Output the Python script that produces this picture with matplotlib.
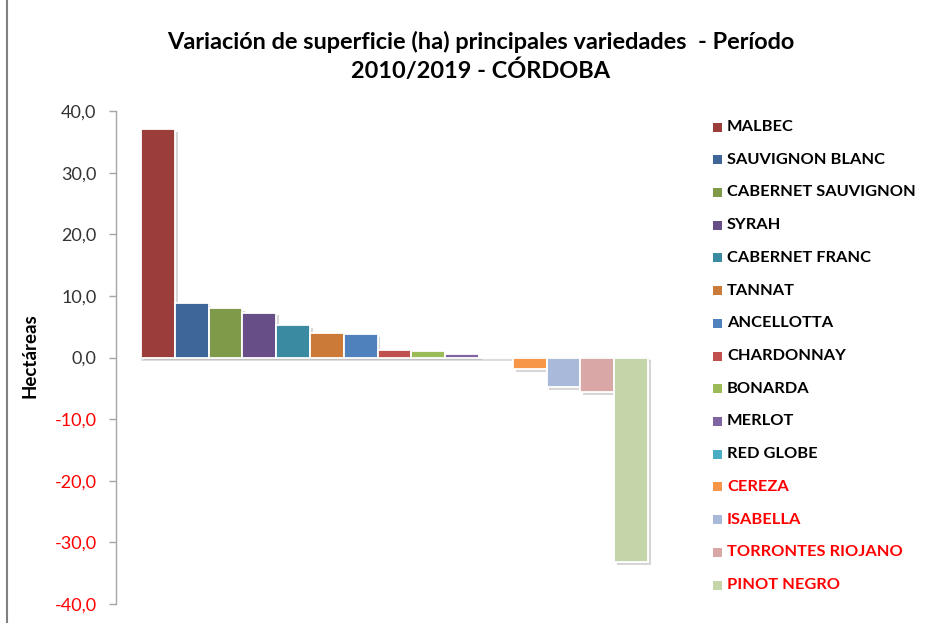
import matplotlib
matplotlib.use("Agg")
import matplotlib.pyplot as plt
import matplotlib.patheffects as pe
from matplotlib.patches import Rectangle
from matplotlib.lines import Line2D

varieties = ["MALBEC", "SAUVIGNON BLANC", "CABERNET SAUVIGNON", "SYRAH", "CABERNET FRANC",
             "TANNAT", "ANCELLOTTA", "CHARDONNAY", "BONARDA", "MERLOT", "RED GLOBE",
             "CEREZA", "ISABELLA", "TORRONTES RIOJANO", "PINOT NEGRO"]
values = [37.0, 8.8, 8.0, 7.3, 5.3, 4.0, 3.8, 1.2, 1.0, 0.5, 0.1,
          -1.9, -4.8, -5.6, -33.2]
colors = ["#9B3D3B", "#3F6699", "#7F9A48", "#674E87", "#3A8BA2", "#CC7A37", "#4F81BD",
          "#C0504D", "#9BBB59", "#8064A2", "#4BACC6", "#F79646", "#A8B9D9", "#D9A7A6", "#C4D5A9"]
yticks = [-40, -30, -20, -10, 0, 10, 20, 30, 40]
ytick_labels = ["-40,0", "-30,0", "-20,0", "-10,0", "0,0", "10,0", "20,0", "30,0", "40,0"]
title = "Variación de superficie (ha) principales variedades  - Período\n2010/2019 - CÓRDOBA"
ylabel = "Hectáreas"

plt.rcParams['font.family'] = ['Lato', 'DejaVu Sans']

W, H = 939, 623
fig = plt.figure(figsize=(W / 100, H / 100), dpi=100)
fig.patch.set_facecolor("white")

ax_l, ax_r, ax_t, ax_b = 116, 673, 111, 604
ax = fig.add_axes([ax_l / W, 1 - ax_b / H, (ax_r - ax_l) / W, (ax_b - ax_t) / H])
ax.set_facecolor("white")

xs = list(range(len(values)))
bars = ax.bar(xs, values, width=1.0, color=colors, edgecolor="white", linewidth=1.3, zorder=3)
for b in bars:
    b.set_path_effects([pe.SimplePatchShadow(offset=(2, -2), shadow_rgbFace="#999999", alpha=0.4), pe.Normal()])

slot = (648 - 141) / 15.0
xl = -0.5 - (141 - ax_l) / slot
xr = 14.5 + (ax_r - 648) / slot
ax.set_xlim(xl, xr)
ax.set_ylim(-40, 40)

# zero (category) axis
f0 = (-0.5 - xl) / (xr - xl)
f1 = (14.5 - xl) / (xr - xl)
ax.axhline(0, xmin=f0, xmax=f1, color="#D0D0D0", lw=1.2, zorder=2,
           path_effects=[pe.SimpleLineShadow(offset=(1, -2), shadow_color="#999999", alpha=0.4), pe.Normal()])

for s in ["top", "right", "bottom"]:
    ax.spines[s].set_visible(False)
ax.spines["left"].set_color("#A6A6A6")
ax.spines["left"].set_linewidth(1.0)
ax.set_xticks([])
ax.set_yticks(yticks)
ax.set_yticklabels(ytick_labels)
ax.tick_params(axis="y", direction="out", length=5, width=1, color="#A6A6A6", pad=9, labelsize=13)
for lab, v in zip(ax.get_yticklabels(), yticks):
    lab.set_color("#FF0000" if v < 0 else "#333333")

fig.text(30 / W, 1 - 356 / H, ylabel, rotation=90, ha="center", va="center",
         fontsize=13.5, fontweight="bold", color="black")

fig.text(481 / W, 1 - 56 / H, title, ha="center", va="center", fontsize=16.9,
         fontweight="bold", color="black", linespacing=1.35)

# legend
row0, pitch = 127, (585 - 127) / 14.0
for i, (name, c) in enumerate(zip(varieties, colors)):
    y = row0 + i * pitch
    fig.patches.append(Rectangle(((713) / W, 1 - (y + 4.5) / H), 9 / W, 9 / H,
                                 transform=fig.transFigure, facecolor=c, edgecolor="none"))
    fig.text(727 / W, 1 - y / H, name, ha="left", va="center", fontsize=11.8,
             fontweight="bold", color="#FF0000" if values[i] < -1.0 else "black")

# chart frame left edge
fig.add_artist(Line2D([7 / W, 7 / W], [0, 1], transform=fig.transFigure, color="#808080", lw=1.5))

fig.savefig("out.png", dpi=100, facecolor="white")
